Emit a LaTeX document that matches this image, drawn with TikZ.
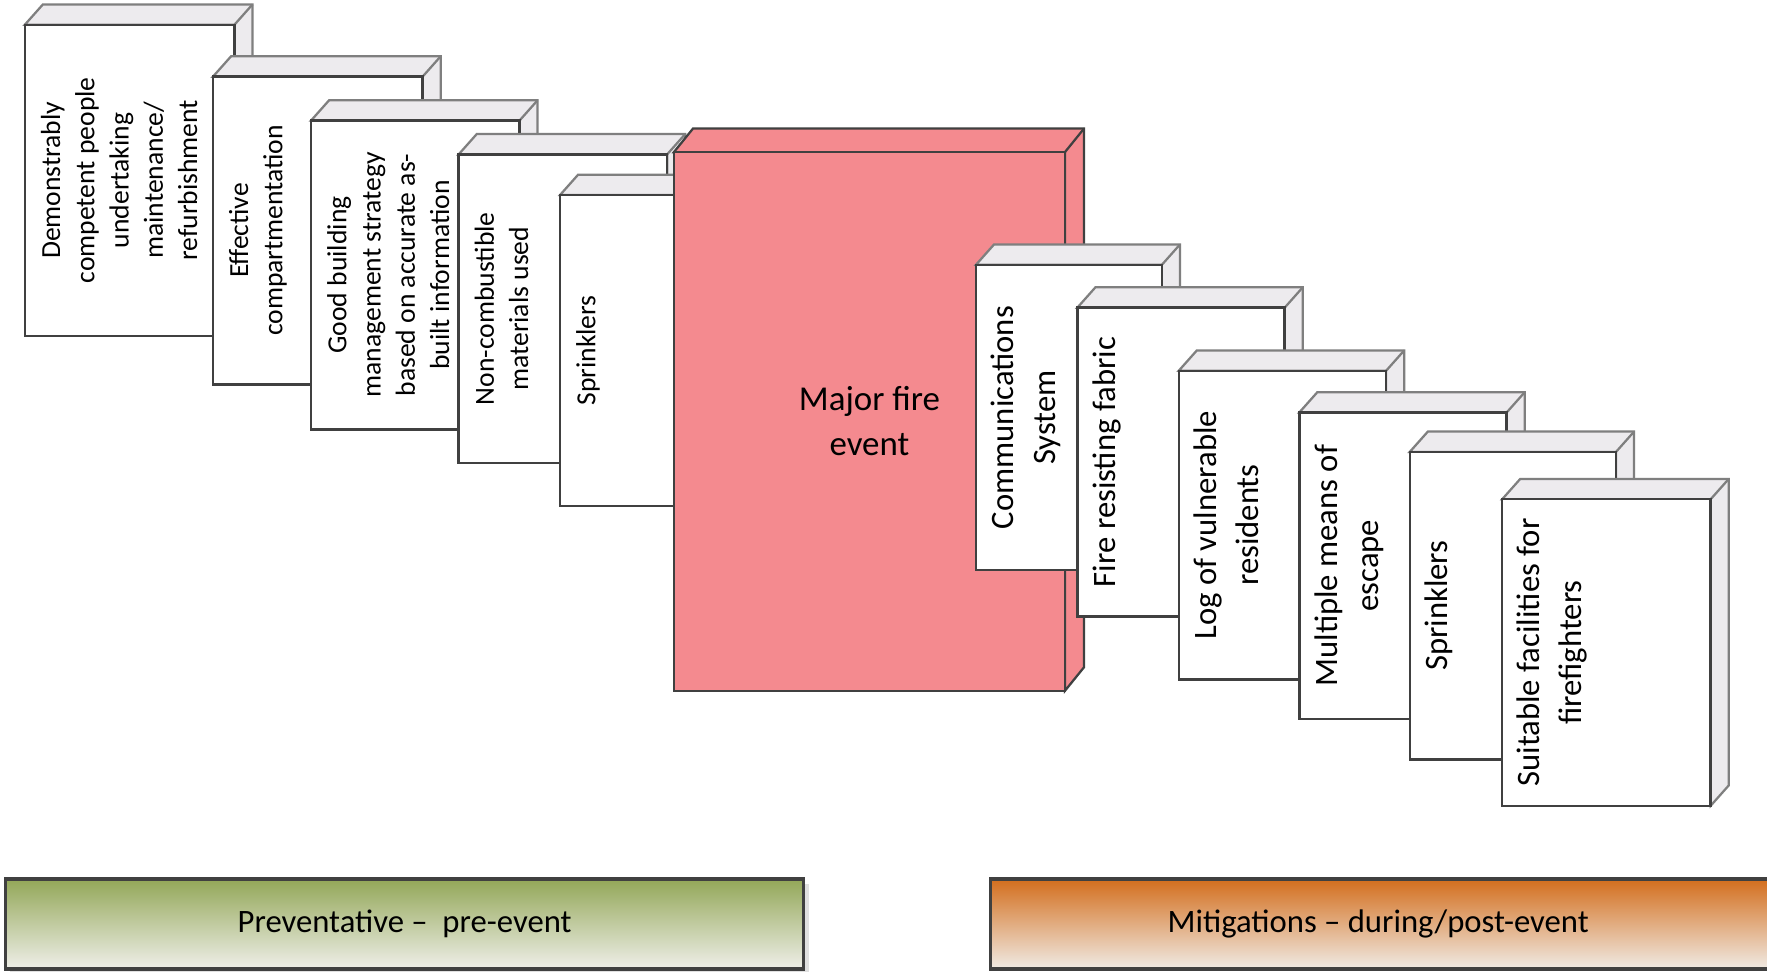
\documentclass[tikz,border=0pt]{standalone}
\usepackage{fontspec}
\setmainfont{Carlito}
\usetikzlibrary{fit}
\definecolor{edgedark}{HTML}{404040}
\definecolor{edgegray}{HTML}{7F7F7F}
\definecolor{sidegray}{HTML}{EDEBEE}
\definecolor{firered}{HTML}{F48A8F}
\definecolor{greentop}{HTML}{93A758}
\definecolor{greenmid}{HTML}{C3CEA2}
\definecolor{greenbot}{HTML}{EFEFE9}
\definecolor{orangetop}{HTML}{D36E1D}
\definecolor{orangemid}{HTML}{E5B08B}
\definecolor{orangebot}{HTML}{F0EBE5}
\tikzset{
  frontface/.style={draw=edgedark, line width=1.1pt, inner sep=0pt},
  whiteside/.style={fill=sidegray, draw=edgegray, line width=1pt, line join=miter},
  redside/.style={fill=firered, draw=edgedark, line width=1pt, line join=miter},
  ltext/.style={rotate=90, anchor=north, align=center, inner sep=0pt,
    font=\fontsize{12.25}{15.2}\selectfont},
  rtext/.style={rotate=90, anchor=north, align=center, inner sep=0pt,
    font=\fontsize{14.5}{18.5}\selectfont},
  bar/.style={draw=edgedark, line width=1.5pt, inner sep=0pt},
  bartext/.style={font=\fontsize{14.5}{18}\selectfont},
}
\def\cdx{16}\def\cdy{18}
% #1 name, #2 x1, #3 y1, #4 x2, #5 y2, #6 front fill, #7 side style
\newcommand{\drawcube}[7]{%
  \filldraw[#7] (#2,#3) -- (#2+\cdx,#3-\cdy) -- (#4+\cdx,#3-\cdy) -- (#4+\cdx,#5-\cdy) -- (#4,#5) -- (#4,#3) -- cycle;
  \draw[#7, fill=none] (#4,#3) -- (#4+\cdx,#3-\cdy);
  \node[frontface, fill=#6, fit={(#2,#3) (#4,#5)}] (#1) {};
}
\begin{document}
\begin{tikzpicture}[x=0.5pt,y=-0.5pt]
\clip (0,0) rectangle (1568,862.5);
\fill[white] (0,0) rectangle (1568,862.5);

% preventative boxes
\drawcube{b1}{22}{22}{208}{298}{white}{whiteside}
\node[ltext] (t1) at ([xshift=7.5pt]b1.west) {Demonstrably\\competent people\\undertaking\\maintenance/\\refurbishment};
\drawcube{b2}{189}{68}{375}{341}{white}{whiteside}
\node[ltext] (t2) at ([xshift=7.5pt]b2.west) {Effective\\compartmentation};
\drawcube{b3}{276}{107}{461}{381}{white}{whiteside}
\node[ltext] (t3) at ([xshift=7.5pt]b3.west) {Good building\\management strategy\\based on accurate as-\\built information};
\drawcube{b4}{407}{137}{592}{411}{white}{whiteside}
\node[ltext] (t4) at ([xshift=7.5pt]b4.west) {Non-combustible\\materials used};
\drawcube{b5}{497}{173}{683}{449}{white}{whiteside}
\node[ltext] (t5) at ([xshift=7.5pt]b5.west) {Sprinklers};

% central event
\def\cdx{17}\def\cdy{21}
\drawcube{ev}{598}{135}{945}{613}{firered}{redside}
\node[align=center, font=\fontsize{15.5}{20}\selectfont] (tev) at (ev) {Major fire\\event};
\def\cdx{16}\def\cdy{18}

% mitigation boxes
\drawcube{m1}{866}{235}{1031}{506}{white}{whiteside}
\node[rtext] (u1) at ([xshift=7pt]m1.west) {Communications\\System};
\drawcube{m2}{956}{273}{1140}{547}{white}{whiteside}
\node[rtext] (u2) at ([xshift=7pt]m2.west) {Fire resisting fabric};
\drawcube{m3}{1046}{329}{1230}{603}{white}{whiteside}
\node[rtext] (u3) at ([xshift=7pt]m3.west) {Log of vulnerable\\residents};
\drawcube{m4}{1153}{366}{1337}{638}{white}{whiteside}
\node[rtext] (u4) at ([xshift=7pt]m4.west) {Multiple means of\\escape};
\drawcube{m5}{1251}{401}{1434}{674}{white}{whiteside}
\node[rtext] (u5) at ([xshift=7pt]m5.west) {Sprinklers};
\drawcube{m6}{1333}{443}{1518}{715}{white}{whiteside}
\node[rtext] (u6) at ([xshift=7pt]m6.west) {Suitable facilities for\\firefighters};

% legend bars
\fill[black!12] (9,784) rectangle (718,864);
\node[bar, fit={(5,780) (713,860)}, top color=greentop, middle color=greenmid, bottom color=greenbot] (prev) {};
\node[bartext] (prevt) at (prev) {Preventative –\ \ pre-event};
\node[bar, fit={(879,780) (1580,860)}, top color=orangetop, middle color=orangemid, bottom color=orangebot] (miti) {};
\node[bartext] (mitit) at (1223,820) {Mitigations – during/post-event};
\end{tikzpicture}
\end{document}
